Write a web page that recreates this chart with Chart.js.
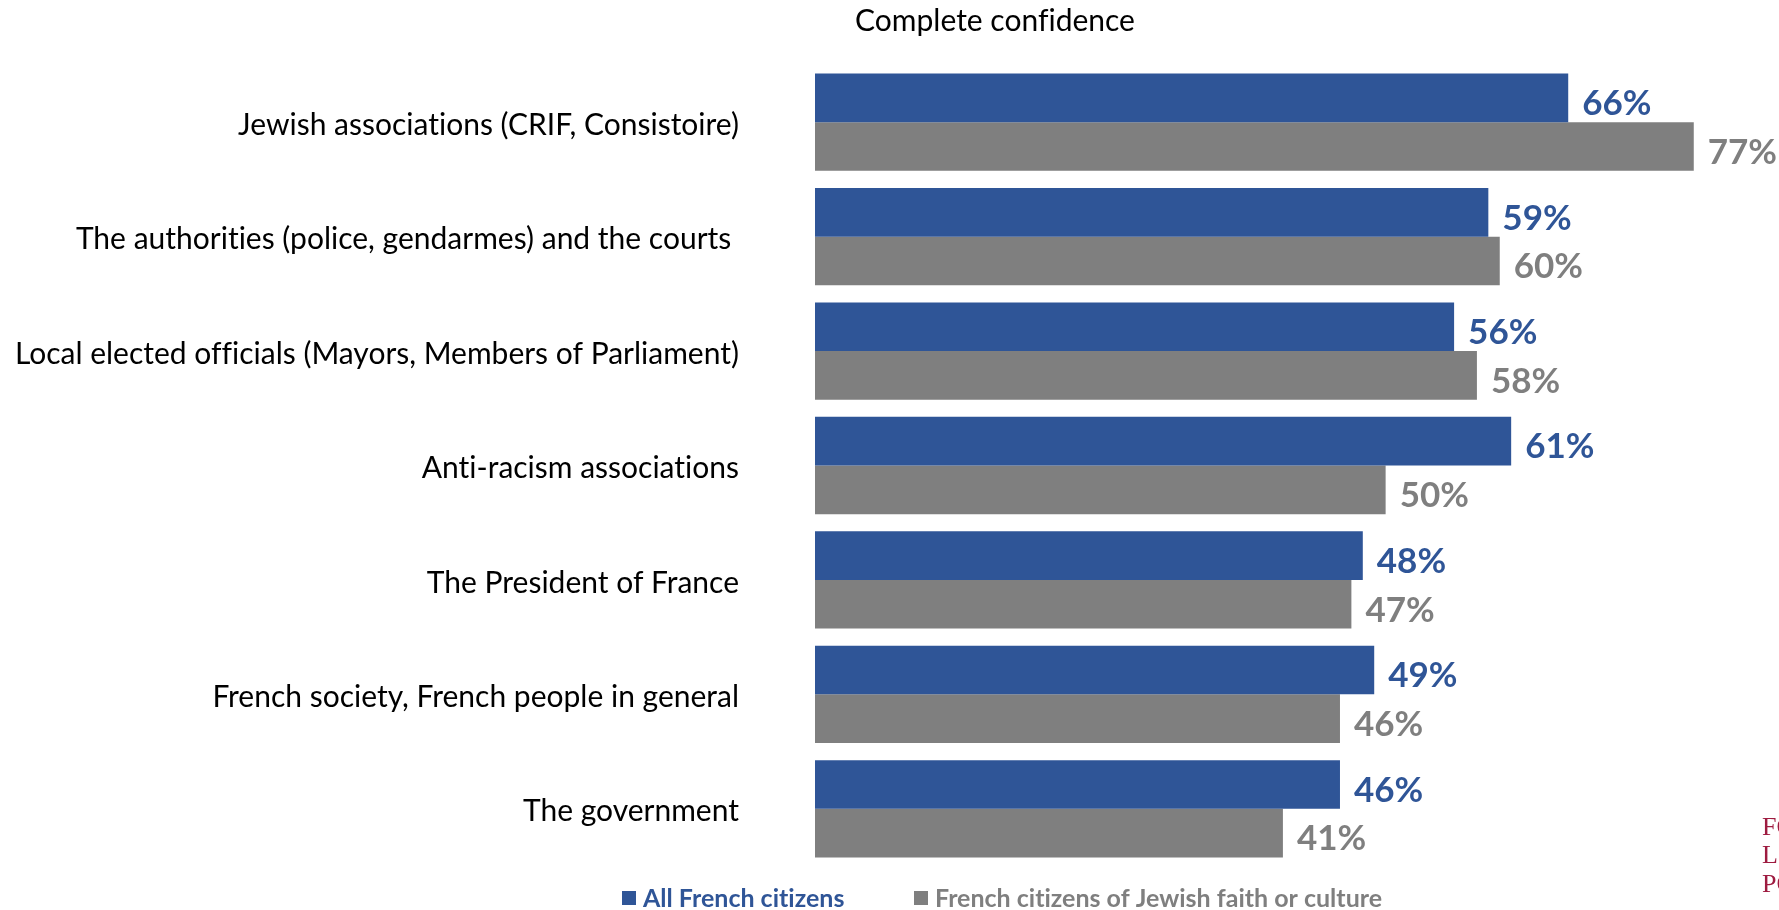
<!DOCTYPE html>
<html>
<head>
<meta charset="utf-8">
<script src="https://cdn.jsdelivr.net/npm/chart.js@4"></script>
<style>
  body { margin: 0; background: #fff; }
  canvas { display: block; }
</style>
</head>
<body>
<canvas id="myChart" width="1779" height="910"></canvas>
<script>
// values
const categories = [
  'Jewish associations (CRIF, Consistoire)',
  'The authorities (police, gendarmes) and the courts ',
  'Local elected officials (Mayors, Members of Parliament)',
  'Anti-racism associations',
  'The President of France',
  'French society, French people in general',
  'The government'
];
const allFrench = [66, 59, 56, 61, 48, 49, 46];
const jewishFrench = [77, 60, 58, 50, 47, 46, 41];
const seriesNames = ['All French citizens', 'French citizens of Jewish faith or culture'];
const chartTitle = 'Complete confidence';
const logoLines = ['FONDATION POUR', "L'INNOVATION", 'POLITIQUE'];

const BLUE = '#2F5597';
const GREY = '#7F7F7F';

// no "ti" ligatures (the original font has none)
const noLigatures = {
  id: 'noLigatures',
  beforeDraw(chart) {
    chart.ctx.textRendering = 'optimizeSpeed';
  }
};

// percent labels at the end of each bar
const valueLabels = {
  id: 'valueLabels',
  afterDatasetsDraw(chart) {
    const ctx = chart.ctx;
    ctx.save();
    ctx.font = 'bold 35px Lato';
    ctx.textAlign = 'left';
    ctx.textBaseline = 'middle';
    chart.data.datasets.forEach((ds, i) => {
      chart.getDatasetMeta(i).data.forEach((bar, j) => {
        ctx.fillStyle = ds.backgroundColor;
        ctx.fillText(ds.data[j] + '%', bar.x + 14, bar.y + 6);
      });
    });
    ctx.restore();
  }
};

// title, legend and the clipped logo in the corner
const extras = {
  id: 'extras',
  afterDraw(chart) {
    const ctx = chart.ctx;
    ctx.save();
    ctx.fillStyle = '#000';
    ctx.font = '30px Lato';
    ctx.textAlign = 'center';
    ctx.textBaseline = 'middle';
    ctx.fillText(chartTitle, 995, 21);

    const legendX = [622, 914];
    ctx.font = 'bold 25px Lato';
    ctx.textAlign = 'left';
    chart.data.datasets.forEach((ds, i) => {
      ctx.fillStyle = ds.backgroundColor;
      ctx.fillRect(legendX[i], 891, 14, 14);
      ctx.fillText(ds.label, legendX[i] + 21, 899);
    });

    ctx.fillStyle = '#9E1B40';
    ctx.font = '26px "Liberation Serif"';
    ctx.textBaseline = 'alphabetic';
    [835, 863, 892].forEach((y, i) => ctx.fillText(logoLines[i], 1762, y));
    ctx.restore();
  }
};

const ctx = document.getElementById('myChart').getContext('2d');
new Chart(ctx, {
  type: 'bar',
  data: {
    labels: categories,
    datasets: [
      { label: seriesNames[0], data: allFrench, backgroundColor: BLUE },
      { label: seriesNames[1], data: jewishFrench, backgroundColor: GREY }
    ]
  },
  options: {
    indexAxis: 'y',
    responsive: false,
    animation: false,
    layout: { padding: { top: 65, bottom: 44, left: 0, right: 51 } },
    datasets: {
      bar: { categoryPercentage: 0.85, barPercentage: 1.0, borderWidth: 0 }
    },
    scales: {
      x: { display: false, min: 0, max: 80 },
      y: {
        grid: { display: false, drawTicks: false },
        border: { display: false },
        ticks: { color: '#000', font: { family: 'Lato', size: 30 }, padding: 76, labelOffset: 3 },
        afterFit: scale => {
          scale.width = 815;
          // tick padding would otherwise push the plot down
          scale.paddingTop = 0;
          scale.paddingBottom = 0;
        }
      }
    },
    plugins: {
      legend: { display: false },
      title: { display: false },
      tooltip: { enabled: false }
    }
  },
  plugins: [noLigatures, valueLabels, extras]
});
</script>
</body>
</html>
